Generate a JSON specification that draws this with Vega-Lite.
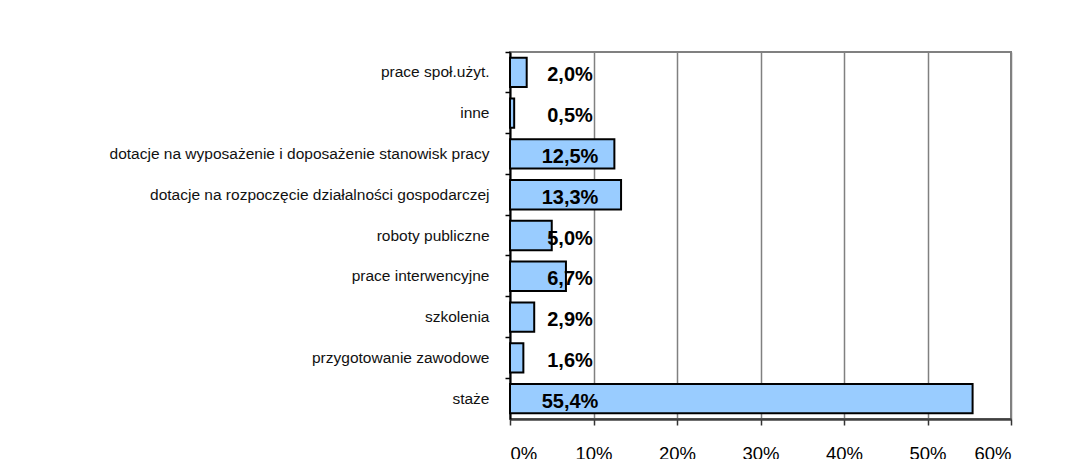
{
  "$schema": "https://vega.github.io/schema/vega-lite/v6.json",
  "autosize": {"type": "none"},
  "width": 501,
  "height": 367,
  "padding": {"left": 510, "top": 52, "right": 78, "bottom": 40},
  "background": "white",
  "config": {
    "locale": {"number": {"decimal": ",", "thousands": " ", "grouping": [3], "currency": ["", " zł"]}},
    "font": "Liberation Sans",
    "view": {"stroke": "#808080", "strokeWidth": 2}
  },
  "data": {
    "values": [
      {"kategoria": "prace społ.użyt.", "udzial": 0.020},
      {"kategoria": "inne", "udzial": 0.005},
      {"kategoria": "dotacje na wyposażenie i doposażenie stanowisk pracy", "udzial": 0.125},
      {"kategoria": "dotacje na rozpoczęcie działalności gospodarczej", "udzial": 0.133},
      {"kategoria": "roboty publiczne", "udzial": 0.050},
      {"kategoria": "prace interwencyjne", "udzial": 0.067},
      {"kategoria": "szkolenia", "udzial": 0.029},
      {"kategoria": "przygotowanie zawodowe", "udzial": 0.016},
      {"kategoria": "staże", "udzial": 0.554}
    ]
  },
  "encoding": {
    "y": {
      "field": "kategoria",
      "type": "nominal",
      "sort": null,
      "scale": {"paddingInner": 0.28, "paddingOuter": 0.14},
      "axis": {
        "title": null,
        "bandPosition": -0.194,
        "labelFontSize": 15.5,
        "labelColor": "#111111",
        "labelPadding": 16,
        "tickSize": 5,
        "tickColor": "#000000",
        "tickWidth": 1.5,
        "domainColor": "#000000",
        "domainWidth": 2,
        "grid": false,
        "labelLimit": 500
      }
    }
  },
  "layer": [
    {
      "mark": {"type": "bar", "fill": "#99CCFF", "stroke": "#000000", "strokeWidth": 2},
      "encoding": {
        "x": {
          "field": "udzial",
          "type": "quantitative",
          "scale": {"domain": [0, 0.6], "nice": false},
          "axis": {
            "title": null,
            "values": [0, 0.1, 0.2, 0.3, 0.4, 0.5, 0.6],
            "format": ".0%",
            "labelFontSize": 18.5,
            "labelColor": "#000000",
            "labelPadding": 19,
            "tickSize": 6,
            "tickColor": "#333333",
            "tickWidth": 1.5,
            "domainColor": "#404040",
            "domainWidth": 2.5,
            "grid": true,
            "gridColor": "#808080",
            "gridWidth": 1.5
          }
        }
      }
    },
    {
      "mark": {"type": "text", "fontSize": 20, "fontWeight": "bold", "align": "center", "baseline": "middle", "dx": 60, "dy": 3, "color": "#000000"},
      "encoding": {
        "x": {"datum": 0, "type": "quantitative"},
        "text": {"field": "udzial", "type": "quantitative", "format": ".1%"}
      }
    }
  ]
}
